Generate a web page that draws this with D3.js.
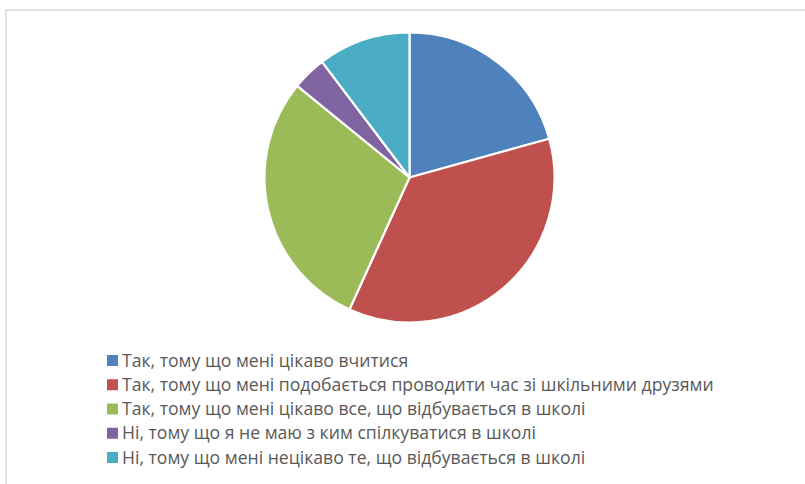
<!DOCTYPE html>
<html>
<head>
<meta charset="utf-8">
<script src="https://cdn.jsdelivr.net/npm/d3@7"></script>
<style>
  html, body { margin: 0; padding: 0; background: #fff; }
  svg { display: block; }
</style>
</head>
<body>
<svg id="chart" width="805" height="484"></svg>
<script>
const categories = [
  "Так, тому що мені цікаво вчитися",
  "Так, тому що мені подобається проводити час зі шкільними друзями",
  "Так, тому що мені цікаво все, що відбувається в школі",
  "Ні, тому що я не маю з ким спілкуватися в школі",
  "Ні, тому що мені нецікаво те, що відбувається в школі"
];
const values = [20.7, 36.1, 29.1, 3.8, 10.3];
const colors = ["#4F81BD", "#C0504D", "#9BBB59", "#8064A2", "#4BACC6"];

const svg = d3.select("#chart");

// chart area border (light gray frame)
svg.append("rect")
  .attr("x", 6).attr("y", 10)
  .attr("width", 820).attr("height", 500)
  .attr("fill", "#fff")
  .attr("stroke", "#e3e3e3")
  .attr("stroke-width", 2);

const cx = 409.5, cy = 177.5, r = 145;
const data = categories.map((c, i) => ({ name: c, value: values[i], color: colors[i] }));

const pie = d3.pie().value(d => d.value).sort(null);
const arc = d3.arc().innerRadius(0).outerRadius(r);

const g = svg.append("g").attr("transform", `translate(${cx},${cy})`);
g.selectAll("path")
  .data(pie(data))
  .join("path")
  .attr("d", arc)
  .attr("fill", d => d.data.color)
  .attr("stroke", "#fff")
  .attr("stroke-width", 2.2)
  .attr("stroke-linejoin", "round");

// legend
const legend = svg.append("g");
const rowY = d3.scaleLinear().domain([0, categories.length - 1]).range([360.5, 457.5]);
const rows = legend.selectAll("g")
  .data(data)
  .join("g")
  .attr("transform", (d, i) => `translate(107,${rowY(i)})`);
rows.append("rect")
  .attr("x", 0).attr("y", -5.5)
  .attr("width", 11).attr("height", 11)
  .attr("fill", d => d.color);
const texts = rows.append("text")
  .attr("x", 15).attr("y", 0)
  .attr("dy", "0.35em")
  .attr("fill", "#595959")
  .style("font-family", "'Open Sans', 'Noto Sans', sans-serif")
  .style("font-size", "14px")
  .text(d => d.name);

// fit font size so the longest entry spans like the reference
let maxLen = 0;
texts.each(function() { maxLen = Math.max(maxLen, this.getComputedTextLength()); });
const target = 592;
const fs = 14 * target / maxLen;
texts.style("font-size", fs + "px");
</script>
</body>
</html>
